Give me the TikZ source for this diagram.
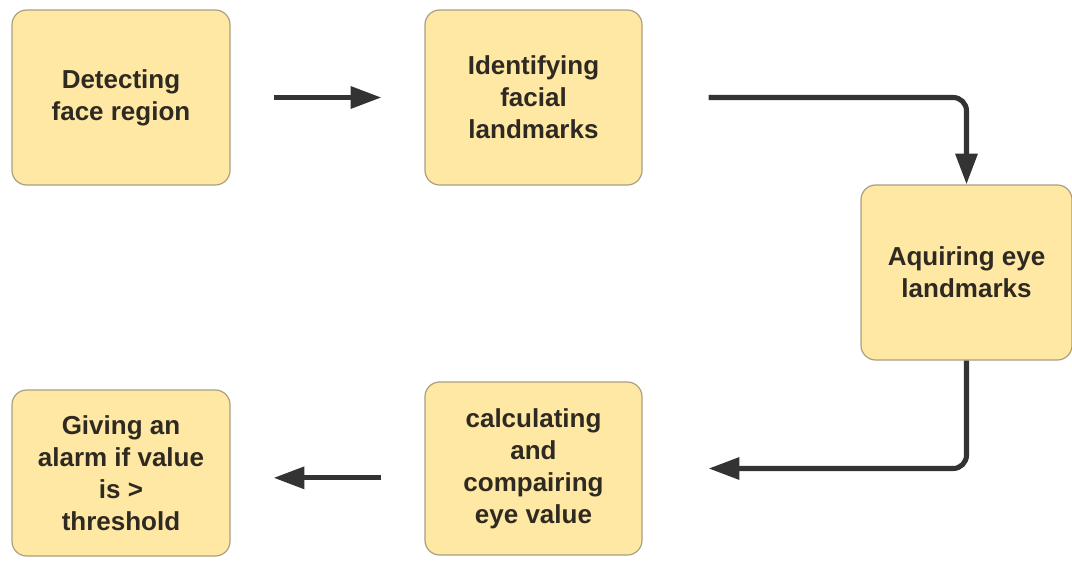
\documentclass[tikz,border=0pt]{standalone}
\usepackage{fontspec}
\setmainfont{Liberation Sans}
\usetikzlibrary{arrows.meta}
\definecolor{boxfill}{HTML}{FEE8A4}
\definecolor{boxline}{HTML}{A99E82}
\definecolor{arrcol}{HTML}{333333}
\definecolor{txtcol}{HTML}{2E2A22}
\tikzset{
  stepbox/.style={draw=boxline, line width=0.9pt, fill=boxfill, rounded corners=11pt,
    align=center, text=txtcol, inner sep=0pt,
    font=\fontsize{19.5}{24}\selectfont\bfseries},
  arr/.style={draw=arrcol, line width=3.8pt, rounded corners=10pt,
    -{Triangle[length=23pt,width=16pt]}},
}
\begin{document}
\begin{tikzpicture}[x=0.75pt,y=-0.75pt]
\useasboundingbox (0,0) rectangle (1072,561);
\node[stepbox, minimum width=163.5pt, minimum height=131.25pt] (b1) at (121,97.5) {Detecting\\face region};
\node[stepbox, minimum width=162.75pt, minimum height=131.25pt] (b2) at (533.5,97.5) {Identifying\\facial\\landmarks};
\node[stepbox, minimum width=158.25pt, minimum height=131.25pt] (b3) at (966.5,272.5) {Aquiring eye\\landmarks};
\node[stepbox, minimum width=162.75pt, minimum height=129.75pt] (b4) at (533.5,468.5) {calculating\\and\\compairing\\eye value};
\node[stepbox, minimum width=163.5pt, minimum height=124.5pt] (b5) at (121,473) {Giving an\\alarm if value\\is >\\threshold};
\draw[arr, shorten <=32.25pt, shorten >=32.25pt] (b1.east) -- (b2.west);
\draw[arr, shorten <=49.5pt] (b2.east) -| (b3.north);
\draw[arr, shorten >=49.5pt] (b3.south) |- (b4.east);
\draw[arr, shorten <=32.25pt, shorten >=32.25pt] ([yshift=-7pt]b4.west) -- ([yshift=-7pt]b4.west -| b5.east);
\end{tikzpicture}
\end{document}
